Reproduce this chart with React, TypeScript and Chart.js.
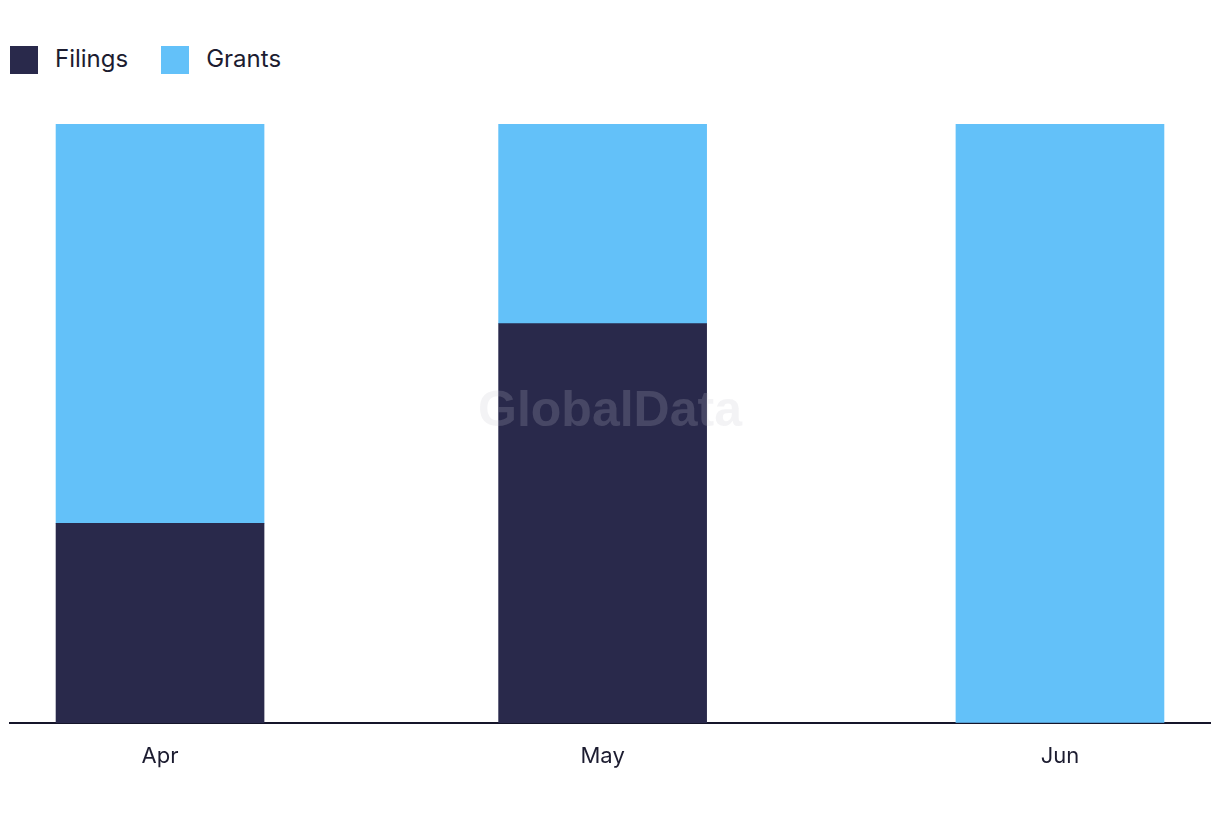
import React, { useEffect, useRef } from "react";
import { Chart, registerables } from "chart.js";

Chart.register(...registerables);

const months = ["Apr", "May", "Jun"];
const monthDayOffsets = [0, 30, 61];
const filings = [1, 2, 0];
const grants = [2, 1, 1];
const seriesNames = ["Filings", "Grants"];
const seriesColors = ["#29294B", "#63C1F9"];

const textColor = "#1c1c30";
const fontFamily = "Inter, 'Noto Sans', sans-serif";

const share = (a: number[], b: number[]) =>
  a.map((v, i) => (a[i] + b[i] === 0 ? 0 : (v / (a[i] + b[i])) * 100));

const watermark = {
  id: "watermark",
  afterDraw(chart: any) {
    const { ctx, chartArea } = chart;
    ctx.save();
    ctx.font = "bold 50px 'Liberation Sans', Arial, sans-serif";
    ctx.fillStyle = "rgba(197,197,205,0.2)";
    ctx.textAlign = "center";
    ctx.textBaseline = "middle";
    ctx.fillText("GlobalData", (chartArea.left + chartArea.right) / 2, 412 - 88);
    ctx.restore();
  },
};

export default function App() {
  const ref = useRef<HTMLCanvasElement>(null);
  useEffect(() => {
    if (!ref.current) return;
    const fShare = share(filings, grants);
    const gShare = share(grants, filings);
    const chart = new Chart(ref.current, {
      type: "bar",
      data: {
        datasets: [
          {
            label: seriesNames[0],
            data: monthDayOffsets.map((x, i) => ({ x, y: fShare[i] })),
            backgroundColor: seriesColors[0],
            barThickness: 208,
          },
          {
            label: seriesNames[1],
            data: monthDayOffsets.map((x, i) => ({ x, y: gShare[i] })),
            backgroundColor: seriesColors[1],
            barThickness: 208,
          },
        ],
      },
      options: {
        animation: false,
        responsive: false,
        layout: { padding: { top: 36, left: 2, right: 2, bottom: 0 } },
        plugins: { legend: { display: false }, tooltip: { enabled: false } },
        scales: {
          x: {
            type: "linear",
            stacked: true,
            offset: false,
            min: -10.17,
            max: 71.17,
            grid: { display: false, drawTicks: false, offset: false },
            border: { display: true, color: "#15152a", width: 2 },
            afterBuildTicks: (scale: any) => {
              scale.ticks = monthDayOffsets.map((v) => ({ value: v }));
            },
            afterFit: (scale: any) => {
              scale.height = 85;
            },
            ticks: {
              color: textColor,
              font: { family: fontFamily, size: 22 },
              padding: 20,
              autoSkip: false,
              maxRotation: 0,
              callback: (v: any) => {
                const i = monthDayOffsets.indexOf(Number(v));
                return i >= 0 ? months[i] : "";
              },
            },
          },
          y: {
            stacked: true,
            display: false,
            min: 0,
            max: 100,
          },
        },
      },
      plugins: [watermark],
    });
    return () => chart.destroy();
  }, []);

  return (
    <div style={{ width: 1204, fontFamily }}>
      <div style={{ height: 80, display: "flex", alignItems: "flex-start", paddingTop: 38, boxSizing: "border-box", paddingLeft: 2 }}>
        {seriesNames.map((n, i) => (
          <div key={n} style={{ display: "flex", alignItems: "center", marginRight: 33 }}>
            <span style={{ display: "inline-block", width: 28, height: 28, background: seriesColors[i], marginRight: 17 }} />
            <span style={{ fontSize: 24, color: textColor, lineHeight: "24px", marginTop: -3 }}>{n}</span>
          </div>
        ))}
      </div>
      <canvas ref={ref} width={1204} height={720} style={{ display: "block" }} />
    </div>
  );
}
